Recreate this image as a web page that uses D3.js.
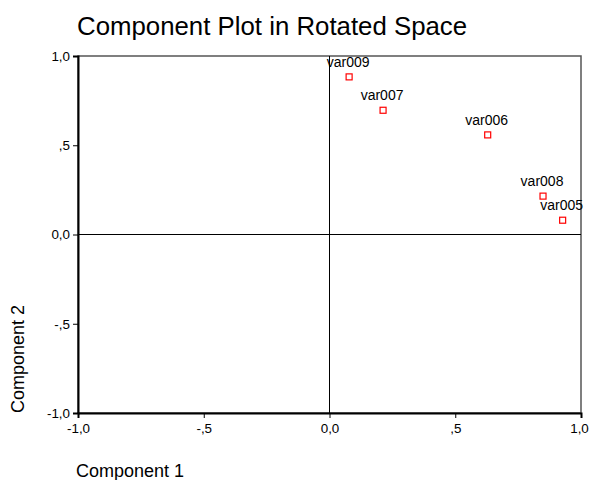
<!DOCTYPE html>
<html>
<head>
<meta charset="utf-8">
<script src="https://cdn.jsdelivr.net/npm/d3@7"></script>
<style>
  body { margin: 0; background: #fff; }
  text { font-family: "Liberation Sans", Arial, sans-serif; fill: #000; }
</style>
</head>
<body>
<div id="chart"></div>
<script>
// loadings
var varNames = ["var009", "var007", "var006", "var008", "var005"];
var comp1 = [0.078, 0.213, 0.629, 0.849, 0.927];
var comp2 = [0.883, 0.696, 0.558, 0.215, 0.080];

var tickValues = [-1, -0.5, 0, 0.5, 1];
var tickLabels = ["-1,0", "-,5", "0,0", ",5", "1,0"];

var width = 589,
    height = 480;
var margin = {top: 56, right: 8, bottom: 67, left: 78};

var svg = d3.select("#chart")
    .append("svg")
    .attr("width", width)
    .attr("height", height);

var x = d3.scaleLinear().domain([-1, 1]).range([margin.left, width - margin.right]);
var y = d3.scaleLinear().domain([-1, 1]).range([height - margin.bottom, margin.top]);

function fmt(d) { return tickLabels[tickValues.indexOf(d)]; }

// title
svg.append("text")
    .attr("x", 77)
    .attr("y", 35)
    .style("font-size", "25.8px")
    .text("Component Plot in Rotated Space");

// frame (top and right)
svg.append("rect")
    .attr("x", x(-1))
    .attr("y", y(1))
    .attr("width", x(1) - x(-1))
    .attr("height", y(-1) - y(1))
    .attr("fill", "none")
    .attr("stroke", "#555")
    .attr("stroke-width", 1.5);

// zero reference lines
svg.append("line")
    .attr("x1", x(0)).attr("x2", x(0))
    .attr("y1", y(1)).attr("y2", y(-1))
    .attr("stroke", "#000");
svg.append("line")
    .attr("x1", x(-1)).attr("x2", x(1))
    .attr("y1", y(0)).attr("y2", y(0))
    .attr("stroke", "#000");

// axes
var xAxis = svg.append("g")
    .attr("transform", "translate(0," + y(-1) + ")")
    .call(d3.axisBottom(x).tickValues(tickValues).tickFormat(fmt).tickSize(5).tickPadding(5));
var yAxis = svg.append("g")
    .attr("transform", "translate(" + x(-1) + ",0)")
    .call(d3.axisLeft(y).tickValues(tickValues).tickFormat(fmt).tickSize(5).tickPadding(3));

[xAxis, yAxis].forEach(function(g) {
    g.select(".domain").attr("stroke", "#000").attr("stroke-width", 2);
    g.selectAll(".tick line").attr("stroke", "#000");
    g.selectAll(".tick text")
        .style("font-size", "13.4px")
        .style("font-family", "'Liberation Sans', Arial, sans-serif")
        .attr("fill", "#000");
});
// keep the last x label inside the window
xAxis.selectAll(".tick text").filter(function(d) { return d === 1; }).attr("dx", "-2");

// axis titles
svg.append("text")
    .attr("x", 76)
    .attr("y", 477)
    .style("font-size", "18px")
    .text("Component 1");
svg.append("text")
    .attr("transform", "translate(24," + y(-1) + ") rotate(-90)")
    .style("font-size", "18px")
    .text("Component 2");

// points
var pts = svg.append("g")
    .selectAll("g")
    .data(varNames)
    .enter().append("g")
    .attr("transform", function(d, i) { return "translate(" + x(comp1[i]) + "," + y(comp2[i]) + ")"; });

pts.append("rect")
    .attr("x", -3).attr("y", -3)
    .attr("width", 6).attr("height", 6)
    .attr("fill", "#fff")
    .attr("stroke", "#f00")
    .attr("stroke-width", 1.2);

pts.append("text")
    .attr("x", -1)
    .attr("y", -10)
    .attr("text-anchor", "middle")
    .style("font-size", "14px")
    .text(function(d) { return d; });
</script>
</body>
</html>
